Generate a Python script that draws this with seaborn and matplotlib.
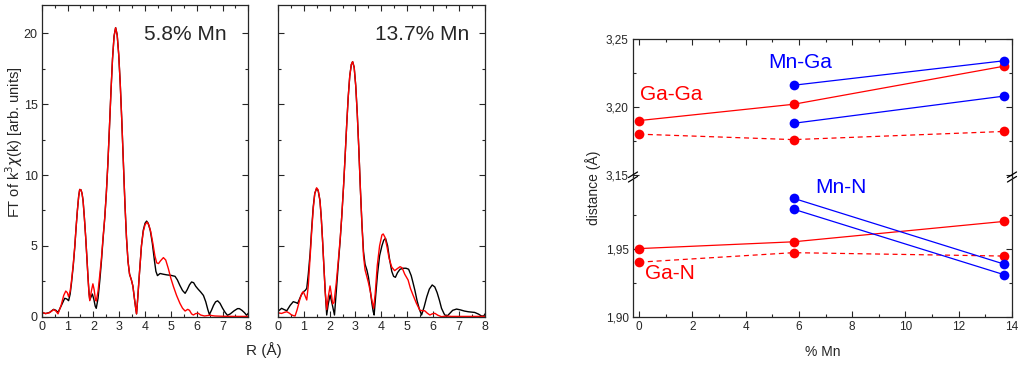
import matplotlib
matplotlib.use("Agg")
import matplotlib.pyplot as plt
import seaborn as sns
from matplotlib.ticker import MultipleLocator, FixedLocator

# ---- FT curves, 5.8% Mn (black = data, red = fit) ----
r58_black = [0.00, 0.15, 0.30, 0.46, 0.55, 0.63, 0.75, 0.89, 0.97, 1.04, 1.10, 1.15, 1.22, 1.28, 1.33,
             1.38, 1.43, 1.47, 1.52, 1.56, 1.60, 1.65, 1.70, 1.75, 1.79, 1.83, 1.86, 1.91, 1.96, 2.02,
             2.07, 2.11, 2.18, 2.25, 2.31, 2.37, 2.44, 2.50, 2.56, 2.62, 2.68, 2.74, 2.80, 2.86, 2.92,
             2.98, 3.04, 3.10, 3.16, 3.22, 3.28, 3.34, 3.40, 3.47, 3.53, 3.58, 3.63, 3.67, 3.72, 3.78,
             3.86, 3.93, 4.00, 4.06, 4.12, 4.20, 4.28, 4.36, 4.42, 4.48, 4.58, 4.70, 4.85, 5.00, 5.16,
             5.25, 5.35, 5.45, 5.55, 5.63, 5.72, 5.80, 5.88, 5.96, 6.05, 6.15, 6.26, 6.35, 6.43, 6.49,
             6.57, 6.65, 6.73, 6.81, 6.90, 7.00, 7.10, 7.19, 7.30, 7.45, 7.58, 7.65, 7.75, 7.85, 7.93,
             8.00]
ft58_black = [0.30, 0.22, 0.30, 0.52, 0.45, 0.30, 0.75, 1.30, 1.25, 1.13, 1.60, 2.35, 3.60, 4.94, 6.30,
              7.50, 8.50, 8.98, 8.95, 8.70, 8.20, 7.00, 5.65, 4.10, 2.82, 1.70, 1.18, 1.40, 1.60, 1.20,
              0.75, 0.59, 1.30, 2.59, 3.90, 5.40, 7.00, 8.70, 10.8, 13.3, 15.9, 18.2, 19.8, 20.4, 19.9,
              18.5, 16.4, 13.8, 10.9, 8.0, 5.6, 3.9, 3.0, 2.60, 2.15, 1.40, 0.70, 0.20, 1.40, 3.00,
              5.00, 6.10, 6.60, 6.75, 6.60, 6.10, 5.20, 4.00, 3.20, 2.90, 3.05, 3.00, 2.95, 2.92, 2.85,
              2.60, 2.20, 1.85, 1.65, 1.90, 2.25, 2.45, 2.40, 2.15, 1.95, 1.75, 1.50, 1.05, 0.50, 0.15,
              0.45, 0.80, 1.05, 1.12, 0.95, 0.60, 0.30, 0.10, 0.20, 0.42, 0.57, 0.57, 0.45, 0.28, 0.10,
              0.25]

r58_red = [0.00, 0.15, 0.30, 0.46, 0.55, 0.63, 0.75, 0.85, 0.93, 0.99, 1.04, 1.10, 1.15, 1.22, 1.28,
           1.33, 1.38, 1.43, 1.47, 1.52, 1.56, 1.60, 1.65, 1.70, 1.75, 1.79, 1.83, 1.86, 1.92, 1.98,
           2.03, 2.08, 2.11, 2.18, 2.25, 2.31, 2.37, 2.44, 2.50, 2.56, 2.62, 2.68, 2.74, 2.80, 2.86,
           2.92, 2.98, 3.04, 3.10, 3.16, 3.22, 3.28, 3.34, 3.40, 3.47, 3.53, 3.58, 3.63, 3.67, 3.72,
           3.78, 3.86, 3.93, 4.00, 4.08, 4.15, 4.22, 4.30, 4.38, 4.45, 4.52, 4.60, 4.71, 4.80, 4.90,
           5.00, 5.10, 5.22, 5.35, 5.45, 5.55, 5.65, 5.72, 5.80, 5.87, 5.96, 6.06, 6.15, 6.30, 6.50,
           6.70, 7.00, 7.50, 8.00]
ft58_red = [0.32, 0.22, 0.28, 0.50, 0.40, 0.20, 0.80, 1.50, 1.81, 1.70, 1.41, 1.80, 2.50, 3.70, 5.00,
            6.30, 7.50, 8.50, 8.98, 8.95, 8.70, 8.20, 7.00, 5.65, 4.10, 2.80, 1.60, 1.13, 1.80, 2.32,
            1.90, 1.20, 1.10, 1.80, 3.00, 4.10, 5.50, 7.00, 8.70, 10.8, 13.3, 15.9, 18.2, 19.8, 20.4,
            19.9, 18.5, 16.4, 13.8, 10.9, 8.0, 5.6, 3.9, 3.0, 2.60, 2.15, 1.40, 0.70, 0.20, 1.40,
            3.00, 5.00, 6.00, 6.50, 6.68, 6.45, 6.00, 5.20, 4.30, 3.80, 3.75, 3.95, 4.17, 4.00, 3.40,
            2.70, 2.12, 1.50, 0.94, 0.60, 0.40, 0.52, 0.45, 0.20, 0.12, 0.22, 0.24, 0.12, 0.05, 0.10,
            0.05, 0.03, 0.02, 0.02]

# ---- FT curves, 13.7% Mn ----
r137_black = [0.00, 0.15, 0.25, 0.35, 0.48, 0.60, 0.70, 0.77, 0.90, 0.99, 1.06, 1.12, 1.18, 1.25, 1.31,
              1.37, 1.43, 1.50, 1.56, 1.63, 1.68, 1.73, 1.78, 1.83, 1.89, 1.95, 2.02, 2.10, 2.19, 2.26,
              2.34, 2.41, 2.47, 2.54, 2.60, 2.66, 2.72, 2.78, 2.84, 2.89, 2.95, 3.01, 3.07, 3.13, 3.19,
              3.25, 3.31, 3.37, 3.44, 3.50, 3.57, 3.63, 3.68, 3.72, 3.78, 3.85, 3.93, 4.02, 4.09, 4.16,
              4.24, 4.32, 4.40, 4.47, 4.54, 4.62, 4.72, 4.85, 4.95, 5.05, 5.15, 5.22, 5.29, 5.38, 5.47,
              5.55, 5.65, 5.75, 5.85, 5.96, 6.06, 6.15, 6.24, 6.32, 6.42, 6.51, 6.62, 6.75, 6.90, 7.05,
              7.20, 7.35, 7.60, 7.75, 7.86, 7.95, 8.00]
ft137_black = [0.36, 0.59, 0.50, 0.42, 0.80, 1.06, 1.00, 0.94, 1.50, 1.76, 1.85, 2.00, 3.00, 4.47, 6.20,
               7.76, 8.70, 9.05, 8.90, 8.20, 7.00, 5.40, 3.60, 1.88, 0.12, 0.90, 1.53, 0.90, 0.12, 1.80,
               3.77, 5.40, 7.06, 9.20, 11.3, 13.5, 15.5, 17.0, 17.8, 18.0, 17.6, 16.3, 14.3, 11.8, 9.0,
               6.50, 4.60, 3.70, 3.30, 2.80, 1.88, 1.00, 0.40, 0.12, 1.50, 3.00, 4.30, 5.00, 5.40, 5.53,
               5.00, 4.00, 3.20, 2.85, 2.78, 3.10, 3.35, 3.42, 3.42, 3.35, 2.90, 2.40, 1.88, 1.10, 0.50,
               0.12, 0.70, 1.40, 1.95, 2.24, 2.10, 1.70, 1.15, 0.59, 0.20, 0.00, 0.20, 0.45, 0.54, 0.48,
               0.40, 0.35, 0.30, 0.18, 0.05, 0.05, 0.20]

r137_red = [0.00, 0.15, 0.25, 0.35, 0.45, 0.52, 0.60, 0.67, 0.75, 0.85, 0.93, 0.99, 1.05, 1.12, 1.18,
            1.25, 1.31, 1.37, 1.43, 1.50, 1.56, 1.63, 1.68, 1.73, 1.78, 1.83, 1.89, 1.95, 2.02, 2.07,
            2.12, 2.17, 2.26, 2.34, 2.41, 2.47, 2.54, 2.60, 2.66, 2.72, 2.78, 2.84, 2.89, 2.95, 3.01,
            3.07, 3.13, 3.19, 3.25, 3.31, 3.37, 3.44, 3.50, 3.57, 3.63, 3.70, 3.76, 3.84, 3.93, 4.02,
            4.07, 4.14, 4.22, 4.30, 4.40, 4.51, 4.62, 4.72, 4.80, 4.90, 5.03, 5.12, 5.22, 5.35, 5.48,
            5.57, 5.67, 5.77, 5.87, 5.96, 6.06, 6.18, 6.32, 6.50, 6.70, 7.00, 8.00]
ft137_red = [0.28, 0.23, 0.30, 0.35, 0.25, 0.14, 0.08, 0.05, 0.50, 1.20, 1.65, 1.76, 1.50, 1.18, 2.20,
             4.20, 6.00, 7.60, 8.70, 9.10, 8.95, 8.20, 7.00, 5.40, 3.60, 1.80, 0.50, 1.40, 2.17, 1.60,
             0.90, 1.00, 2.40, 4.00, 5.50, 7.06, 9.20, 11.3, 13.5, 15.5, 17.0, 17.8, 18.0, 17.6, 16.3,
             14.3, 11.8, 9.0, 6.50, 4.30, 3.30, 2.82, 2.40, 1.80, 1.20, 0.59, 1.60, 3.60, 5.00, 5.77,
             5.84, 5.60, 4.90, 4.10, 3.50, 3.25, 3.40, 3.53, 3.45, 3.00, 2.59, 2.00, 1.53, 0.95, 0.47,
             0.42, 0.42, 0.25, 0.12, 0.20, 0.24, 0.10, 0.00, 0.05, 0.02, 0.02, 0.02]

# ---- distances vs Mn content ----
mn_all = [0, 5.8, 13.7]
mn_doped = [5.8, 13.7]
gaga_a = [3.190, 3.202, 3.230]
gaga_b = [3.180, 3.176, 3.182]
mnga_a = [3.216, 3.234]
mnga_b = [3.188, 3.208]
gan_a = [1.950, 1.955, 1.970]
gan_b = [1.940, 1.947, 1.9445]
mnn_a = [1.987, 1.9386]
mnn_b = [1.979, 1.9308]

sns.set_theme(style="ticks")
plt.rcParams['font.family'] = ['Liberation Sans', 'DejaVu Sans']
plt.rcParams['axes.linewidth'] = 0.9

fig = plt.figure(figsize=(10.18, 3.66), dpi=100)
ax1 = fig.add_axes([0.041, 0.1347, 0.203, 0.8516])
ax2 = fig.add_axes([0.2728, 0.1347, 0.2037, 0.8516])
ax_hi = fig.add_axes([0.6218, 0.5164, 0.3723, 0.3770])
ax_lo = fig.add_axes([0.6218, 0.1352, 0.3723, 0.3812])

RED = '#ff0000'
BLUE = '#0000ff'

for ax, rb, fb, rr, fr, title, tx in [
        (ax1, r58_black, ft58_black, r58_red, ft58_red, '5.8% Mn', 0.897),
        (ax2, r137_black, ft137_black, r137_red, ft137_red, '13.7% Mn', 0.924)]:
    sns.lineplot(x=rb, y=fb, ax=ax, color='black', lw=1.0, sort=False, estimator=None)
    sns.lineplot(x=rr, y=fr, ax=ax, color=RED, lw=1.0, sort=False, estimator=None)
    ax.set_xlim(0, 8)
    ax.set_ylim(0, 22)
    ax.xaxis.set_major_locator(MultipleLocator(1))
    ax.xaxis.set_minor_locator(MultipleLocator(0.5))
    ax.yaxis.set_major_locator(MultipleLocator(5))
    ax.yaxis.set_minor_locator(MultipleLocator(2.5))
    ax.tick_params(which='both', direction='in', top=True, right=True, labelsize=9, pad=3)
    ax.tick_params(which='major', length=4.5, width=0.8)
    ax.tick_params(which='minor', length=2.5, width=0.8)
    ax.text(tx, 0.907, title, transform=ax.transAxes, ha='right', va='center', fontsize=15)
    ax.set_xlabel('')

ax1.set_ylabel(r'FT of k$^3$$\chi$(k) [arb. units]', fontsize=10.5)
ax1.yaxis.set_label_coords(-0.082, 0.56)
ax2.set_yticklabels([])
fig.text(0.259, 0.044, 'R (Å)', ha='center', va='center', fontsize=11)

# right panel: broken y axis
for ax in (ax_hi, ax_lo):
    sns.lineplot(x=mn_all, y=gaga_a if ax is ax_hi else gan_a, ax=ax, color=RED, lw=0.9,
                 marker='o', markersize=7, markeredgewidth=0, sort=False, estimator=None)
    sns.lineplot(x=mn_all, y=gaga_b if ax is ax_hi else gan_b, ax=ax, color=RED, lw=0.9,
                 linestyle=(0, (4, 3)), marker='o', markersize=7, markeredgewidth=0,
                 sort=False, estimator=None)
    sns.lineplot(x=mn_doped, y=mnga_a if ax is ax_hi else mnn_a, ax=ax, color=BLUE, lw=0.9,
                 marker='o', markersize=7, markeredgewidth=0, sort=False, estimator=None)
    sns.lineplot(x=mn_doped, y=mnga_b if ax is ax_hi else mnn_b, ax=ax, color=BLUE, lw=0.9,
                 marker='o', markersize=7, markeredgewidth=0, sort=False, estimator=None)
    ax.set_xlim(-0.23, 14)
    ax.xaxis.set_major_locator(MultipleLocator(2))
    ax.xaxis.set_minor_locator(MultipleLocator(1))
    ax.tick_params(which='both', direction='in', top=True, right=True, labelsize=8.5, pad=3)
    ax.tick_params(which='major', length=4.5, width=0.8)
    ax.tick_params(which='minor', length=2.5, width=0.8)
    ax.set_xlabel('')
    ax.set_ylabel('')

ax_hi.set_ylim(3.1485, 3.25)
ax_hi.yaxis.set_major_locator(FixedLocator([3.15, 3.20, 3.25]))
ax_hi.yaxis.set_minor_locator(FixedLocator([3.175, 3.225]))
ax_hi.set_yticklabels(['3,15', '3,20', '3,25'])
ax_hi.spines['bottom'].set_visible(False)
ax_hi.tick_params(which='both', bottom=False, labelbottom=False)

ax_lo.set_ylim(1.90, 2.0027)
ax_lo.yaxis.set_major_locator(FixedLocator([1.90, 1.95]))
ax_lo.yaxis.set_minor_locator(FixedLocator([1.925, 1.975]))
ax_lo.set_yticklabels(['1,90', '1,95'])
ax_lo.spines['top'].set_visible(False)
ax_lo.tick_params(which='both', top=False)

# break marks on both sides
for xb in (0.0, 1.0):
    for dy in (-0.016, 0.016):
        ax_lo.plot([xb - 0.012, xb + 0.012], [1 + dy - 0.02, 1 + dy + 0.02],
                   transform=ax_lo.transAxes, color='black', lw=0.9, clip_on=False)

ax_hi.text(0.03, 3.209, 'Ga-Ga', color=RED, fontsize=15, ha='left', va='center')
ax_hi.text(4.84, 3.2324, 'Mn-Ga', color=BLUE, fontsize=15, ha='left', va='center')
ax_lo.text(6.6, 1.995, 'Mn-N', color=BLUE, fontsize=15, ha='left', va='center')
ax_lo.text(0.23, 1.9318, 'Ga-N', color=RED, fontsize=15, ha='left', va='center')

fig.text(593 / 1018, 1 - 188 / 366, 'distance (Å)', rotation=90, ha='center', va='center', fontsize=10)
fig.text(823 / 1018, 0.038, '% Mn', ha='center', va='center', fontsize=10)

fig.savefig('out.png', dpi=100)
